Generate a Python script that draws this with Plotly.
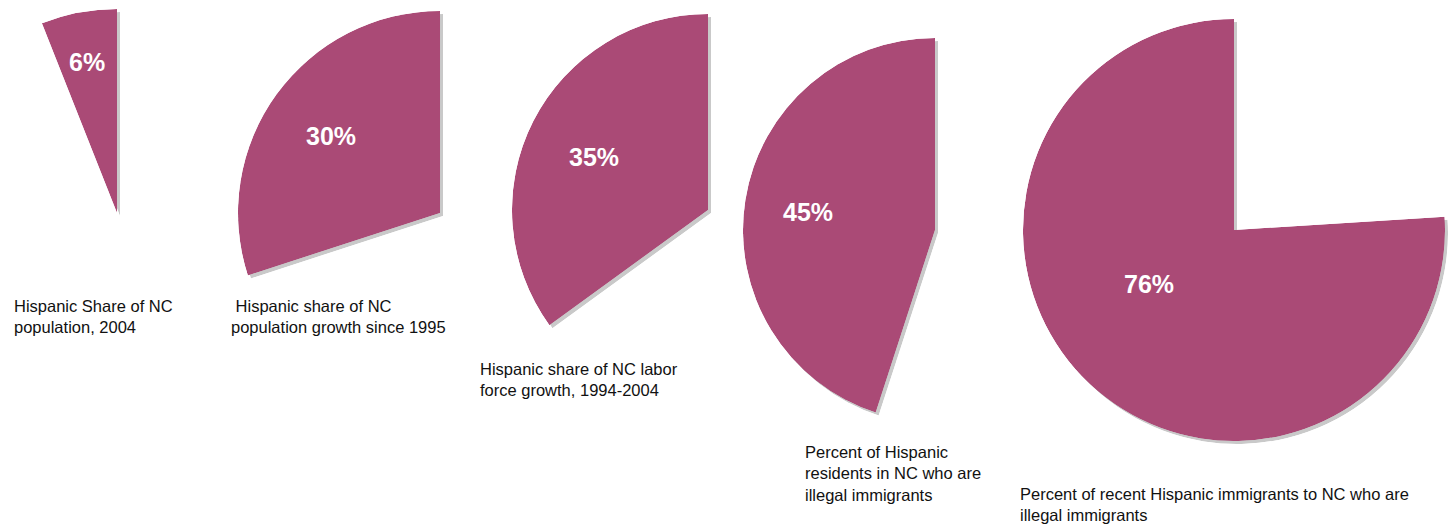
import math
import plotly.graph_objects as go

# ---------------- data ----------------
captions = [
    "Hispanic Share of NC<br>population, 2004",
    "\u00a0Hispanic share of NC<br>population growth since 1995",
    "Hispanic share of NC labor<br>force growth, 1994-2004",
    "Percent of Hispanic<br>residents in NC who are<br>illegal immigrants",
    "Percent of recent Hispanic immigrants to NC who are<br>illegal immigrants",
]
percents = [6, 30, 35, 45, 76]

# ---------------- layout (pixels) ----------------
W, H = 1448, 524
centers = [(117, 213), (440, 213), (708, 210), (935, 230), (1234, 230)]
radii = [204, 202, 196, 192, 211]
label_pos = [(87, 62), (331, 136), (594, 157), (808, 212), (1149, 284)]
caption_pos = [(12, 316), (229, 316), (478, 379), (803, 473), (1018, 504)]
SHADOW = 3
SLICE_COLOR = "#AA4A76"
SHADOW_COLOR = "#C9C9C9"


def sector_bbox(a0, a1):
    pts = [(0.0, 0.0), (math.cos(math.radians(a0)), math.sin(math.radians(a0))),
           (math.cos(math.radians(a1)), math.sin(math.radians(a1)))]
    for k in (0, 90, 180, 270, 360, 450, 540):
        if a0 <= k <= a1:
            pts.append((math.cos(math.radians(k)), math.sin(math.radians(k))))
    xs = [round(p[0], 9) for p in pts]
    ys = [round(p[1], 9) for p in pts]
    return min(xs), max(xs), min(ys), max(ys)


def clamp(v):
    return max(0.0, min(1.0, v))


fig = go.Figure()
layout_polars = {}
n = len(percents)

for layer, (dx, dy, color) in enumerate([(SHADOW, SHADOW, SHADOW_COLOR), (0, 0, SLICE_COLOR)]):
    for i, p in enumerate(percents):
        idx = layer * n + i + 1
        name = "polar" if idx == 1 else f"polar{idx}"
        span = 3.6 * p
        a0, a1 = 90.0, 90.0 + span
        x0, x1, y0, y1 = sector_bbox(a0, a1)
        cx, cy = centers[i]
        cx += dx
        cy += dy
        r = radii[i]
        dom_x = [clamp((cx + r * x0) / W), clamp((cx + r * x1) / W)]
        top_px = cy - r * y1
        bot_px = cy - r * y0
        dom_y = [clamp(1 - bot_px / H), clamp(1 - top_px / H)]
        layout_polars[name] = dict(
            domain=dict(x=dom_x, y=dom_y),
            sector=[a0, a1],
            hole=0,
            bgcolor="rgba(0,0,0,0)",
            radialaxis=dict(visible=False, range=[0, 1], showgrid=False, showline=False),
            angularaxis=dict(visible=False, rotation=90, direction="counterclockwise",
                             showgrid=False, showline=False),
        )
        fig.add_trace(go.Barpolar(
            r=[1], theta=[span / 2], width=[span], base=0,
            marker=dict(color=color, line=dict(width=0)),
            subplot=name, showlegend=False,
            hoverinfo="skip" if layer == 0 else "text",
            hovertext=f"{p}%",
        ))

annotations = []
for i, p in enumerate(percents):
    lx, ly = label_pos[i]
    annotations.append(dict(
        x=lx / W, y=1 - ly / H, xref="paper", yref="paper",
        text=f"{p}%", showarrow=False, xanchor="center", yanchor="middle",
        font=dict(family="Liberation Sans, Arial", size=25, color="white", weight="bold"),
    ))
    tx, ty = caption_pos[i]
    annotations.append(dict(
        x=tx / W, y=1 - ty / H, xref="paper", yref="paper",
        text=captions[i], showarrow=False, xanchor="left", yanchor="middle", align="left",
        font=dict(family="Liberation Sans, Arial", size=16.5, color="#111111"),
    ))

fig.update_layout(
    width=W, height=H,
    margin=dict(l=0, r=0, t=0, b=0),
    paper_bgcolor="white", plot_bgcolor="white",
    showlegend=False,
    annotations=annotations,
    **layout_polars,
)

fig.write_html(
    "out.html",
    config={"displayModeBar": False},
    post_script="document.body.style.margin='0';document.body.style.padding='0';"
                "document.documentElement.style.overflow='hidden';",
)
